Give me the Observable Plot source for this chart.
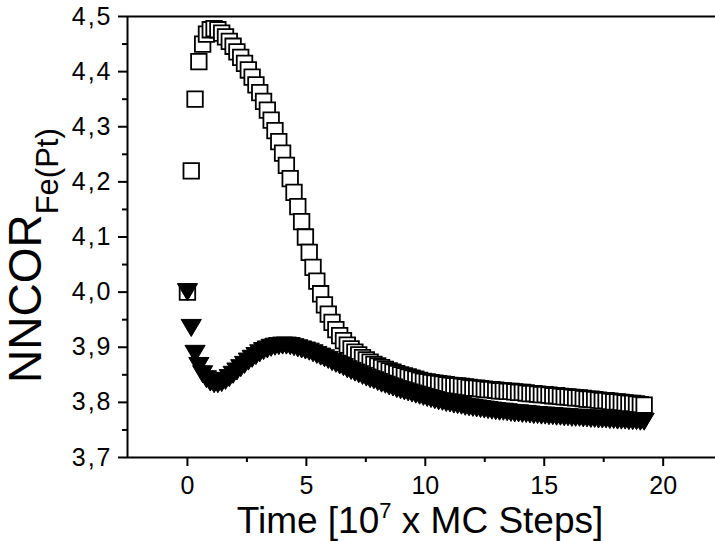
<!DOCTYPE html>
<html>
<head>
<meta charset="utf-8">
<script src="https://cdn.jsdelivr.net/npm/d3@7"></script>
<script src="https://cdn.jsdelivr.net/npm/@observablehq/plot@0.6"></script>
<style>
  html, body { margin: 0; padding: 0; background: #fff; }
  #chart { width: 715px; height: 541px; overflow: hidden; }
  .yticks text { letter-spacing: 2px; }
</style>
</head>
<body>
<div id="chart"></div>
<script>
// Time axis (10^7 MC steps)
const times = [0,0.16,0.32,0.48,0.64,0.8,0.96,1.12,1.28,1.44,1.6,1.76,1.92,2.08,2.24,2.4,2.56,2.72,2.88,3.04,
  3.2,3.36,3.52,3.68,3.84,4,4.16,4.32,4.48,4.64,4.8,4.96,5.12,5.28,5.44,5.6,5.76,5.92,6.08,6.24,
  6.4,6.56,6.72,6.88,7.04,7.2,7.36,7.52,7.68,7.84,8,8.16,8.32,8.48,8.64,8.8,8.96,9.12,9.28,9.44,
  9.6,9.76,9.92,10.08,10.24,10.4,10.56,10.72,10.88,11.04,11.2,11.36,11.52,11.68,11.84,12,12.16,12.32,12.48,12.64,
  12.8,12.96,13.12,13.28,13.44,13.6,13.76,13.92,14.08,14.24,14.4,14.56,14.72,14.88,15.04,15.2,15.36,15.52,15.68,15.84,
  16,16.16,16.32,16.48,16.64,16.8,16.96,17.12,17.28,17.44,17.6,17.76,17.92,18.08,18.24,18.4,18.56,18.72,18.88,19.04,
  19.2];

// Open squares series
const squareValues = [4.000,4.220,4.350,4.418,4.450,4.468,4.476,4.478,4.476,4.470,
  4.463,4.455,4.446,4.436,4.426,4.415,4.403,4.390,4.376,4.362,
  4.346,4.330,4.312,4.293,4.273,4.252,4.230,4.206,4.181,4.155,
  4.128,4.100,4.072,4.045,4.020,3.997,3.977,3.960,3.945,3.932,
  3.921,3.912,3.904,3.897,3.891,3.886,3.881,3.877,3.873,3.869,
  3.866,3.863,3.860,3.857,3.855,3.852,3.850,3.848,3.846,3.844,
  3.842,3.840,3.838,3.837,3.836,3.835,3.834,3.833,3.832,3.831,
  3.830,3.830,3.829,3.828,3.827,3.826,3.826,3.825,3.824,3.823,
  3.823,3.822,3.821,3.821,3.820,3.820,3.819,3.818,3.818,3.817,
  3.816,3.816,3.815,3.814,3.814,3.813,3.812,3.812,3.811,3.810,
  3.810,3.809,3.808,3.808,3.807,3.806,3.806,3.805,3.804,3.803,
  3.803,3.802,3.801,3.801,3.800,3.799,3.798,3.798,3.797,3.796,
  3.795];

// Filled down-triangles series
const triangleValues = [4.000,3.935,3.888,3.866,3.851,3.842,3.836,3.833,3.833,3.835,
  3.839,3.844,3.850,3.856,3.862,3.868,3.874,3.879,3.884,3.889,
  3.893,3.896,3.899,3.901,3.902,3.903,3.903,3.902,3.900,3.898,
  3.896,3.894,3.892,3.889,3.886,3.883,3.880,3.877,3.873,3.870,
  3.867,3.864,3.860,3.857,3.854,3.851,3.848,3.845,3.842,3.840,
  3.837,3.834,3.832,3.829,3.827,3.824,3.822,3.820,3.818,3.816,
  3.814,3.812,3.810,3.808,3.806,3.804,3.802,3.801,3.799,3.798,
  3.796,3.795,3.794,3.792,3.791,3.790,3.789,3.788,3.787,3.786,
  3.785,3.784,3.783,3.783,3.782,3.781,3.780,3.780,3.779,3.779,
  3.778,3.777,3.777,3.776,3.776,3.775,3.775,3.774,3.774,3.773,
  3.773,3.772,3.772,3.772,3.771,3.771,3.770,3.770,3.769,3.769,
  3.769,3.768,3.768,3.767,3.767,3.767,3.766,3.766,3.766,3.765,
  3.765];

const xMajorTicks = [0, 5, 10, 15, 20];
const xMinorTicks = [2.5, 7.5, 12.5, 17.5];
const yMajorTicks = [3.7, 3.8, 3.9, 4.0, 4.1, 4.2, 4.3, 4.4, 4.5];
const yMinorTicks = [3.75, 3.85, 3.95, 4.05, 4.15, 4.25, 4.35, 4.45];

const xDomain = [-2.52, 22.2];
const yDomain = [3.7, 4.5];

const squares = times.map((t, i) => ({t, v: squareValues[i]}));
const triangles = times.map((t, i) => ({t, v: triangleValues[i]}));

// Downward-pointing triangle symbol
const triangleDown = {
  draw(context, size) {
    const s = Math.sqrt(size);
    const w = s * 1.3, h = s * 1.1;
    context.moveTo(-w / 2, -h / 2);
    context.lineTo(w / 2, -h / 2);
    context.lineTo(0, h / 2);
    context.closePath();
  }
};

const fmt = d => d.toFixed(1).replace(".", ",");

const plot = Plot.plot({
  width: 715,
  height: 541,
  marginLeft: 127,
  marginRight: 0,
  marginTop: 16,
  marginBottom: 84,
  style: {fontFamily: "'Liberation Sans', Arial, Helvetica, sans-serif", color: "black", background: "white", overflow: "hidden"},
  x: {domain: xDomain},
  y: {domain: yDomain},
  marks: [
    Plot.ruleY(yDomain, {stroke: "black", strokeWidth: 2}),
    Plot.ruleX([xDomain[0]], {stroke: "black", strokeWidth: 2}),
    Plot.axisX(xMajorTicks, {tickSize: 9, tickPadding: 10, fontSize: 25, strokeWidth: 2, label: null, tickFormat: d => String(d)}),
    Plot.axisX(xMinorTicks, {tickSize: 5, strokeWidth: 2, label: null, tickFormat: () => ""}),
    Plot.axisY(yMajorTicks, {tickSize: 9, tickPadding: 6, fontSize: 25, strokeWidth: 2, label: null, tickFormat: fmt, className: "yticks"}),
    Plot.axisY(yMinorTicks, {tickSize: 5, strokeWidth: 2, label: null, tickFormat: () => ""}),
    Plot.dot(squares, {x: "t", y: "v", symbol: "square", r: 8.75, fill: "white", stroke: "black", strokeWidth: 1.8}),
    Plot.dot(triangles, {x: "t", y: "v", symbol: triangleDown, r: 8.75, fill: "black", stroke: "black", strokeWidth: 1})
  ]
});

const svg = d3.select(plot);
const ff = "'Liberation Sans', Arial, Helvetica, sans-serif";

// X axis title with superscript
const xt = svg.append("text")
  .attr("x", 420).attr("y", 533)
  .attr("text-anchor", "middle")
  .attr("font-family", ff).attr("font-size", 37).attr("fill", "black");
xt.append("tspan").text("Time [10");
xt.append("tspan").attr("font-size", 22).attr("dy", -15).text("7");
xt.append("tspan").attr("dy", 15).text(" x MC Steps]");

// Y axis title with subscript
const yt = svg.append("text")
  .attr("transform", "translate(41,383) rotate(-90)")
  .attr("text-anchor", "start")
  .attr("font-family", ff).attr("font-size", 46).attr("fill", "black");
yt.append("tspan").text("NNCOR");
yt.append("tspan").attr("font-size", 31).attr("dy", 17).text("Fe(Pt)");

document.getElementById("chart").appendChild(plot);
</script>
</body>
</html>
